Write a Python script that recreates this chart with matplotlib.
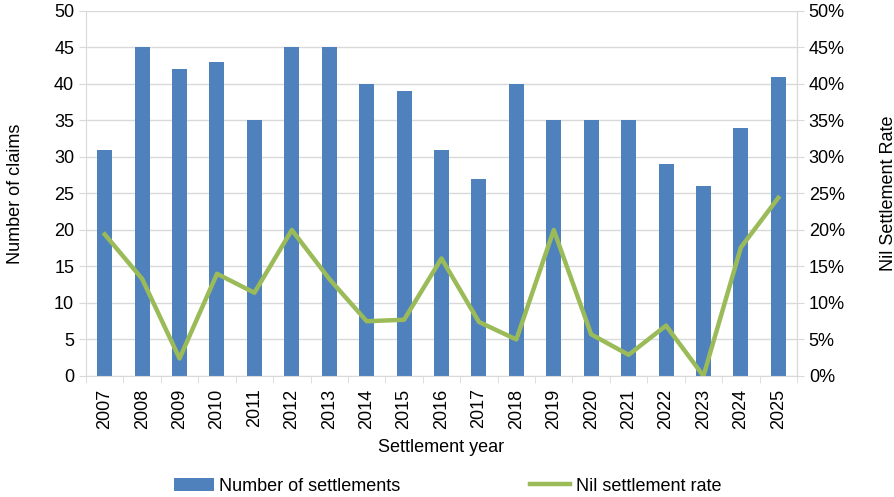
import matplotlib
matplotlib.use("Agg")
import matplotlib.pyplot as plt
import numpy as np
from matplotlib.ticker import FuncFormatter, MultipleLocator, FixedLocator

plt.rcParams['font.family'] = ['Liberation Sans', 'DejaVu Sans']

years = ['2007', '2008', '2009', '2010', '2011', '2012', '2013', '2014', '2015', '2016',
         '2017', '2018', '2019', '2020', '2021', '2022', '2023', '2024', '2025']
settlements = [31, 45, 42, 43, 35, 45, 45, 40, 39, 31, 27, 40, 35, 35, 35, 29, 26, 34, 41]
nil_rate = [0.194, 0.133, 0.024, 0.140, 0.114, 0.200, 0.133, 0.075, 0.077, 0.161,
            0.074, 0.050, 0.200, 0.057, 0.029, 0.069, 0.000, 0.176, 0.244]

bar_color = '#4F81BD'
line_color = '#9BBB59'
grid_color = '#D9D9D9'
fs = 13

fig = plt.figure(figsize=(8.95, 4.97), dpi=100)
ax = fig.add_axes([0.0961, 0.2435, 0.7944, 0.7345])
x = np.arange(len(years))
bars = ax.bar(x, settlements, width=0.4, color=bar_color, zorder=2, label='Number of settlements')
ax.set_ylim(0, 50)
ax.set_xlim(-0.5, len(years) - 0.5)
ax.yaxis.set_major_locator(MultipleLocator(5))
ax.grid(axis='y', color=grid_color, linewidth=1, zorder=0)
ax.set_axisbelow(True)
ax.set_xticks(x)
ax.set_xticklabels(years, rotation=90, fontsize=fs)
ax.xaxis.set_minor_locator(FixedLocator(np.arange(-0.5, len(years), 1)))
ax.tick_params(axis='x', which='major', length=0, pad=9)
ax.tick_params(axis='x', which='minor', length=5, color=grid_color)
ax.tick_params(axis='y', labelsize=fs, length=5, color=grid_color)
ax.spines['top'].set_visible(False)
for s in ['left', 'right', 'bottom']:
    ax.spines[s].set_color(grid_color)
ax.set_ylabel('Number of claims', fontsize=fs, labelpad=22)
ax.set_xlabel('Settlement year', fontsize=fs, labelpad=7)

ax2 = ax.twinx()
ln, = ax2.plot(x, nil_rate, color=line_color, linewidth=3.2, zorder=3, label='Nil settlement rate')
ax2.set_ylim(0, 0.5)
ax2.yaxis.set_major_locator(MultipleLocator(0.05))
ax2.yaxis.set_major_formatter(FuncFormatter(lambda v, p: f'{v*100:.0f}%'))
ax2.tick_params(axis='y', labelsize=fs, length=5, color=grid_color)
for s in ['top', 'left', 'bottom']:
    ax2.spines[s].set_visible(False)
ax2.spines['right'].set_color(grid_color)
ax2.set_ylabel('Nil Settlement Rate', fontsize=fs, labelpad=25)

fig.legend([bars, ln], ['Number of settlements', 'Nil settlement rate'],
           loc='center', bbox_to_anchor=(0.500, 0.022), ncol=2, frameon=False,
           fontsize=fs, columnspacing=7.2, handlelength=2.2, handletextpad=0.3)

fig.savefig('out.png', dpi=100)
